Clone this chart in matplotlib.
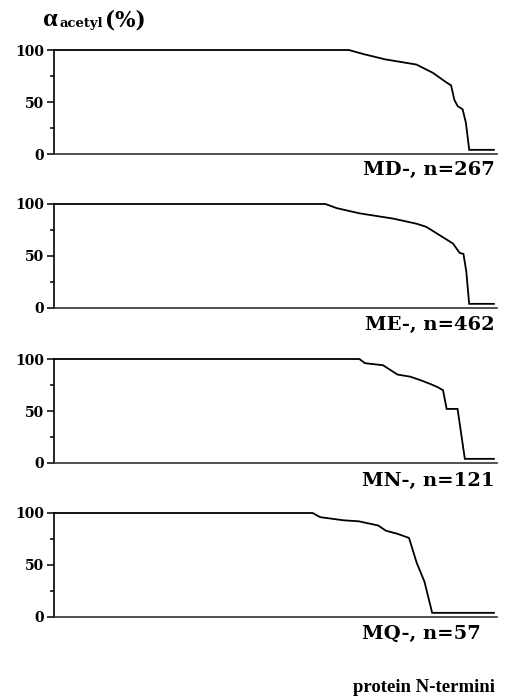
import matplotlib.pyplot as plt
from matplotlib.ticker import FixedLocator

# ranked acetylation level per N-terminal class (rank, percent)
md_rank = [0, 179, 188, 201, 220, 230, 238, 241, 243, 245, 248, 250, 252, 267]
md_pct = [100, 100, 96, 91, 86, 78, 69, 66, 52, 46, 43, 30, 4, 4]

me_rank = [0, 285, 297, 321, 356, 381, 391, 405, 419, 426, 430, 433, 436, 462]
me_pct = [100, 100, 96, 91, 86, 81, 78, 70, 62, 53, 52, 35, 4, 4]

mn_rank = [0, 84, 85.5, 90.5, 94.5, 98, 100.5, 103.5, 105.5, 107, 108, 111, 113, 121]
mn_pct = [100, 100, 96, 94, 85, 83, 80, 76, 73, 70, 52, 52, 4, 4]

mq_rank = [0, 33.5, 34.5, 37.5, 39.5, 42, 43, 44.5, 46, 47, 48, 49, 57]
mq_pct = [100, 100, 96, 93, 92, 88, 83, 80, 76, 52, 34, 4, 4]

labels = ["MD-, n=267", "ME-, n=462", "MN-, n=121", "MQ-, n=57"]
counts = [267, 462, 121, 57]
series = [(md_rank, md_pct), (me_rank, me_pct), (mn_rank, mn_pct), (mq_rank, mq_pct)]

WIDE = ['DejaVu Serif']
NARROW = ['Liberation Serif', 'DejaVu Serif']
plt.rcParams['font.family'] = WIDE
plt.rcParams['font.weight'] = 'bold'

W, H = 505, 700
fig = plt.figure(figsize=(W / 100, H / 100), dpi=100)

# panel top / bottom in pixels
tops = [50, 204, 359, 513]
bottoms = [154, 308, 463, 617]
label_y = [170, 325, 481, 634]
label_x = [495, 495, 495, 481]
left, right = 54, 497

for i, (rank, pct) in enumerate(series):
    ax = fig.add_axes([left / W, 1 - bottoms[i] / H,
                       (right - left) / W, (bottoms[i] - tops[i]) / H])
    ax.plot(rank, pct, color='black', lw=1.3, clip_on=False,
            solid_joinstyle='miter')
    ax.set_xlim(0, counts[i] * 1.007)
    ax.set_ylim(0, 100)
    for side in ('top', 'right'):
        ax.spines[side].set_visible(False)
    ax.spines['left'].set_linewidth(1.2)
    ax.spines['bottom'].set_linewidth(1.2)
    ax.spines['bottom'].set_color('#333333')
    ax.set_xticks([])
    ax.yaxis.set_major_locator(FixedLocator([0, 50, 100]))
    ax.yaxis.set_minor_locator(FixedLocator([25, 75]))
    ax.tick_params(axis='y', which='major', length=5, width=1.1,
                   labelsize=10, pad=2)
    ax.tick_params(axis='y', which='minor', length=3, width=1.1)
    for t in ax.get_yticklabels():
        t.set_fontweight('bold')
    fig.text(label_x[i] / W, 1 - label_y[i] / H, labels[i],
             ha='right', va='center', fontsize=14, fontweight='bold')

fig.text(495 / W, 1 - 688 / H, "protein N-termini", family=NARROW,
         ha='right', va='center', fontsize=13.5, fontweight='bold')

# y label: alpha with subscript, then unit
fig.text(43 / W, 1 - 26 / H, "\u03b1", family=NARROW, ha='left',
         va='baseline', fontsize=19, fontweight='bold')
fig.text(60 / W, 1 - 27 / H, "acetyl", ha='left', va='baseline',
         fontsize=9.5, fontweight='bold')
fig.text(105 / W, 1 - 26 / H, "(%)", ha='left', va='baseline',
         fontsize=15.5, fontweight='bold')

fig.savefig("out.png", dpi=100)
